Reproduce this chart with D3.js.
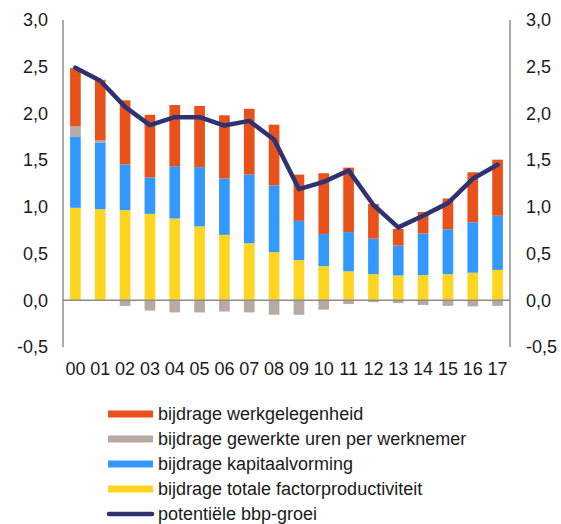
<!DOCTYPE html>
<html lang="nl">
<head>
    <meta charset="UTF-8" />
    <script src="https://cdn.jsdelivr.net/npm/d3@7"></script>
    <style>
        body { margin: 0; background: #fff; }
        text { font-family: Arial, "Liberation Sans", sans-serif; fill: #1a1a1a; }
    </style>
</head>
<body>
<div id="chart"></div>
<script>
    // data
    var years = ["00","01","02","03","04","05","06","07","08","09","10","11","12","13","14","15","16","17"];
    var tfp = [0.99,0.975,0.965,0.925,0.875,0.79,0.70,0.61,0.515,0.43,0.365,0.31,0.28,0.265,0.27,0.28,0.295,0.325];
    var kapitaal = [0.765,0.715,0.49,0.39,0.56,0.635,0.605,0.735,0.715,0.42,0.345,0.42,0.38,0.32,0.445,0.48,0.54,0.58];
    var uren = [0.11,0.02,-0.06,-0.11,-0.13,-0.13,-0.12,-0.13,-0.155,-0.155,-0.10,-0.04,-0.02,-0.03,-0.05,-0.06,-0.065,-0.06];
    var werk = [0.62,0.65,0.685,0.67,0.655,0.655,0.675,0.705,0.65,0.495,0.65,0.69,0.37,0.18,0.23,0.33,0.535,0.60];
    var potentieel = [2.49,2.35,2.07,1.875,1.96,1.96,1.87,1.92,1.72,1.19,1.267,1.39,1.02,0.78,0.905,1.04,1.30,1.45];
    var yTicks = [-0.5,0,0.5,1,1.5,2,2.5,3];

    var keys = ["tfp","kapitaal","uren","werk"];
    var labels = {
        werk: "bijdrage werkgelegenheid",
        uren: "bijdrage gewerkte uren per werknemer",
        kapitaal: "bijdrage kapitaalvorming",
        tfp: "bijdrage totale factorproductiviteit"
    };
    var colors = { werk: "#e8521a", uren: "#b7aaa2", kapitaal: "#3399ff", tfp: "#ffd520" };
    var lineColor = "#2e3270";

    var data = years.map(function (y, i) {
        return { year: y, tfp: tfp[i], kapitaal: kapitaal[i], uren: uren[i], werk: werk[i], pot: potentieel[i] };
    });

    var W = 561, H = 524;
    var margin = { top: 20, right: 51, bottom: 177, left: 63 },
        width = W - margin.left - margin.right,
        height = H - margin.top - margin.bottom;

    var svg = d3.select("#chart").append("svg")
        .attr("width", W).attr("height", H);
    var g = svg.append("g").attr("transform", `translate(${margin.left},${margin.top})`);

    var x = d3.scaleBand().domain(years).range([0, width]).paddingInner(0.57).paddingOuter(0.285);
    var y = d3.scaleLinear().domain([-0.5, 3]).range([height, 0]);

    var series = d3.stack().keys(keys).offset(d3.stackOffsetDiverging)(data);

    // bars
    g.selectAll("g.stack")
        .data(series)
        .enter().append("g")
        .attr("class", "stack")
        .attr("fill", function (d) { return colors[d.key]; })
        .selectAll("rect")
        .data(function (d) { return d; })
        .enter().append("rect")
        .attr("x", function (d) { return x(d.data.year); })
        .attr("y", function (d) { return y(d[1]); })
        .attr("width", x.bandwidth())
        .attr("height", function (d) { return y(d[0]) - y(d[1]); });

    // axes lines
    g.append("line").attr("x1", 0).attr("x2", 0).attr("y1", 0).attr("y2", height)
        .attr("stroke", "#8c8c8c").attr("stroke-width", 1.5);
    g.append("line").attr("x1", width).attr("x2", width).attr("y1", 0).attr("y2", height)
        .attr("stroke", "#8c8c8c").attr("stroke-width", 1.5);
    g.append("line").attr("x1", 0).attr("x2", width).attr("y1", y(0)).attr("y2", y(0))
        .attr("stroke", "#8c8c8c").attr("stroke-width", 1.5);

    // comma decimals, plain hyphen for negatives
    var fmt = function (v) { return v.toFixed(1).replace(".", ","); };

    var yl = d3.axisLeft(y).tickValues(yTicks).tickFormat(fmt).tickSize(0).tickPadding(15);
    var yr = d3.axisRight(y).tickValues(yTicks).tickFormat(fmt).tickSize(0).tickPadding(16);
    [g.append("g").call(yl), g.append("g").attr("transform", `translate(${width},0)`).call(yr)]
        .forEach(function (a) {
            a.select(".domain").remove();
            a.selectAll("text").style("font-size", "18px").attr("fill", "#1a1a1a");
        });

    var xa = g.append("g").attr("transform", `translate(0,${height})`)
        .call(d3.axisBottom(x).tickSize(0).tickPadding(15));
    xa.select(".domain").remove();
    xa.selectAll("text").style("font-size", "18px").attr("fill", "#1a1a1a");

    // line
    var line = d3.line()
        .x(function (d) { return x(d.year) + x.bandwidth() / 2; })
        .y(function (d) { return y(d.pot); });
    g.append("path").datum(data)
        .attr("d", line)
        .attr("fill", "none")
        .attr("stroke", lineColor)
        .attr("stroke-width", 4.5)
        .attr("stroke-linejoin", "round")
        .attr("stroke-linecap", "round");

    // legend
    var legendKeys = ["werk", "uren", "kapitaal", "tfp"];
    var leg = svg.append("g").attr("transform", "translate(108,414)");
    var rows = leg.selectAll("g.legend")
        .data(legendKeys.concat(["pot"]))
        .enter().append("g")
        .attr("class", "legend")
        .attr("transform", function (d, i) { return "translate(0," + i * 25 + ")"; });

    rows.filter(function (d) { return d !== "pot"; }).append("rect")
        .attr("x", 0).attr("y", -3.5).attr("width", 45).attr("height", 7)
        .attr("fill", function (d) { return colors[d]; });
    rows.filter(function (d) { return d === "pot"; }).append("line")
        .attr("x1", 1).attr("x2", 44).attr("y1", 0).attr("y2", 0)
        .attr("stroke", lineColor).attr("stroke-width", 4.5).attr("stroke-linecap", "round");

    rows.append("text")
        .attr("x", 50).attr("dy", "0.35em")
        .style("font-size", "18px")
        .text(function (d) { return d === "pot" ? "potentiële bbp-groei" : labels[d]; });
</script>
</body>
</html>
